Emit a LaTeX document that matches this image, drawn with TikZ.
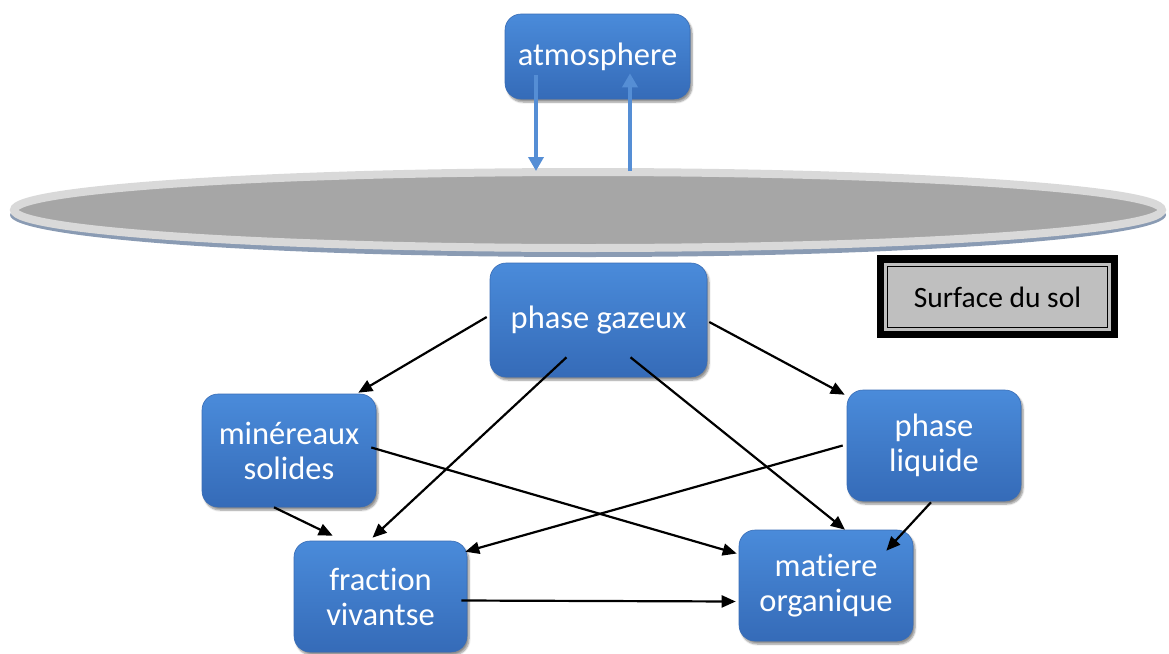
\documentclass[tikz,border=0pt]{standalone}
\usepackage{fontspec}
\setmainfont{Carlito}[Ligatures=NoCommon]
\usetikzlibrary{shapes.geometric,arrows.meta,calc,shadows.blur}

\definecolor{boxtop}{HTML}{4A8BDA}
\definecolor{boxbot}{HTML}{356BB8}
\definecolor{boxedge}{HTML}{3A6DB5}
\definecolor{fluxblue}{HTML}{558ED5}
\definecolor{ringgray}{HTML}{D9D9D9}
\definecolor{soilgray}{HTML}{A6A6A6}
\definecolor{soilshadow}{HTML}{8A9BB3}
\definecolor{labelgray}{HTML}{BFBFBF}

\begin{document}
\begin{tikzpicture}[x=1pt,y=-1pt,
  box/.style={rectangle, rounded corners=16pt, top color=boxtop, bottom color=boxbot,
    draw=boxedge, line width=0.6pt, text=white, align=center, inner sep=0pt,
    font=\fontsize{32.5}{35}\selectfont,
    blur shadow={shadow xshift=2pt, shadow yshift=-3pt, shadow opacity=45, shadow blur steps=6}},
  link/.style={draw=black, line width=2.2pt, -{Triangle[length=14pt,width=12pt]}},
  flux/.style={draw=fluxblue, line width=4.5pt, -{Triangle[length=14pt,width=15pt]}}
]
\useasboundingbox (0,0) rectangle (1169,653);

% soil surface disc with its shadow
\fill[soilshadow] (588,215) ellipse [x radius=578, y radius=42];
\node (sol) [ellipse, draw=ringgray, line width=8pt, fill=soilgray, inner sep=0pt,
  minimum width=1148pt, minimum height=76pt] at (588,210) {};

% legend box
\fill[black] (877,255) rectangle (1118,338);
\fill[labelgray] (884,263) rectangle (1111,331);
\node (leg) [draw=black, line width=1.8pt, fill=labelgray, minimum width=220pt,
  minimum height=61pt, inner sep=0pt, font=\fontsize{29.5}{32}\selectfont]
  at (997.5,297) {Surface du sol};

% compartments
\node (atm) [box, minimum width=185pt, minimum height=85pt] at (597.5,56.5) {atmosphere};
\node (pg)  [box, minimum width=217pt, minimum height=114pt] at (598.5,320) {phase gazeux};
\node (min) [box, minimum width=174pt, minimum height=113pt] at (289,450.5) {minéreaux\\solides};
\node (pl)  [box, minimum width=174pt, minimum height=111pt] at (934,445.5) {phase\\liquide};
\node (fv)  [box, minimum width=173pt, minimum height=111pt] at (380.5,596.5) {fraction\\vivantse};
\node (mo)  [box, minimum width=174pt, minimum height=111pt] at (826,585.5) {matiere\\organique};

% exchanges with the atmosphere
\draw[flux] ($(atm.south)+(-61.5,-24)$) -- ($(sol.north)+(-52,3)$);
\draw[flux] ($(sol.north)+(42,3)$) -- ($(atm.south)+(32.5,-26)$);

% transfers between compartments
\draw[link] ($(pg.west)+(-3,-3)$) -- ($(min.north east)+(-18,-1)$);
\draw[link] ($(pg.south)+(-32,-20)$) -- ($(fv.north)+(-8,-3)$);
\draw[link] ($(pg.south)+(32,-20)$) -- ($(mo.north)+(19,0)$);
\draw[link] ($(pg.east)+(2,2)$) -- ($(pl.north west)+(-2,5)$);
\draw[link] ($(min.east)+(-5,-3)$) -- ($(mo.west)+(-2,-32)$);
\draw[link] ($(min.south)+(-15,0)$) -- ($(fv.north west)+(39,-5)$);
\draw[link] ($(pl.west)+(-4,0)$) -- ($(fv.north east)+(-2,11)$);
\draw[link] ($(pl.south)+(-3,1)$) -- ($(mo.north east)+(-27,21)$);
\draw[link] ($(fv.east)+(-6,4)$) -- ($(mo.west)+(-3,16)$);
\end{tikzpicture}
\end{document}
